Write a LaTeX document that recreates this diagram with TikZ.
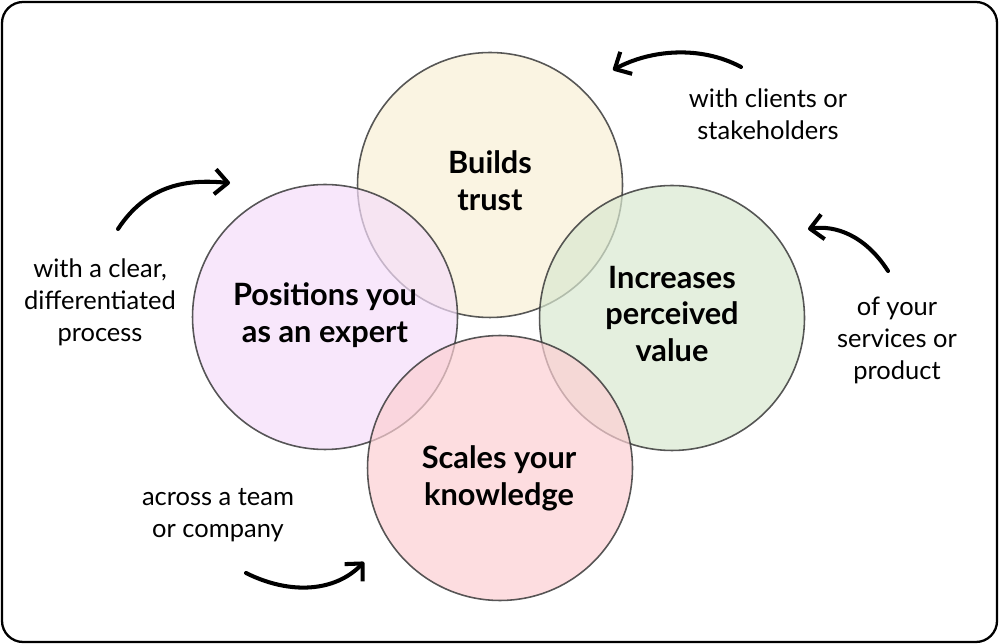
\documentclass[tikz,border=0pt]{standalone}
\usepackage{fontspec}
\setmainfont{Lato}
\usetikzlibrary{arrows.meta}
\definecolor{trustfill}{HTML}{F8EFD6}
\definecolor{expertfill}{HTML}{F5DDFA}
\definecolor{valuefill}{HTML}{D9E8D0}
\definecolor{scalefill}{HTML}{FCCFD3}
\definecolor{rim}{HTML}{3A3A3A}
\begin{document}
\begin{tikzpicture}[x=0.02cm,y=-0.02cm,
  venn/.style={circle,draw=rim,line width=0.9pt,minimum size=5.3cm,
    fill opacity=0.7,draw opacity=0.85},
  headline/.style={align=center,font=\bfseries\fontsize{17.5}{21}\selectfont},
  note/.style={align=center,font=\fontsize{14.5}{18.2}\selectfont},
  curl/.style={line width=2.3pt,line cap=round,
    -{Straight Barb[length=2.6mm,width=5mm,line join=round]}}]
\useasboundingbox (0,0) rectangle (999,644);
\draw[line width=1.3pt,rounded corners=12pt] (2,2) rectangle (997,642);

% the four circles
\node[venn,fill=trustfill] (trust) at (490,185) {};
\node[venn,fill=expertfill] (expert) at (325,317) {};
\node[venn,fill=valuefill] (value) at (672,318) {};
\node[venn,fill=scalefill] (scale) at (500,468) {};

\node[headline] (trusttext) at (490,181) {Builds\\trust};
\node[headline] (experttext) at (325,315) {Positions you\\as an expert};
\node[headline] (valuetext) at (672,314) {Increases\\perceived\\value};
\node[headline] (scaletext) at (499,478) {Scales your\\knowledge};

% side notes
\node[note] (clientsnote) at (768,114) {with clients or\\stakeholders};
\node[note] (processnote) at (100,302) {with a clear,\\differentiated\\process};
\node[note] (servicesnote) at (897,340) {of your\\services or\\product};
\node[note] (teamnote) at (218,515) {across a team\\or company};

% curly arrows
\coordinate (clientsfrom) at (741,67);
\coordinate (clientsto) at (613,70);
\coordinate (processfrom) at (118,229);
\coordinate (processto) at (230,183);
\coordinate (servicesfrom) at (888,271);
\coordinate (servicesto) at (808,229);
\coordinate (teamfrom) at (246,573);
\coordinate (teamto) at (364,562);

\draw[curl] (clientsfrom) .. controls (700,45) and (650,50) .. (clientsto);
\draw[curl] (processfrom) .. controls (150,180) and (195,180) .. (processto);
\draw[curl] (servicesfrom) .. controls (865,235) and (835,225) .. (servicesto);
\draw[curl] (teamfrom) .. controls (290,595) and (335,592) .. (teamto);
\end{tikzpicture}
\end{document}
